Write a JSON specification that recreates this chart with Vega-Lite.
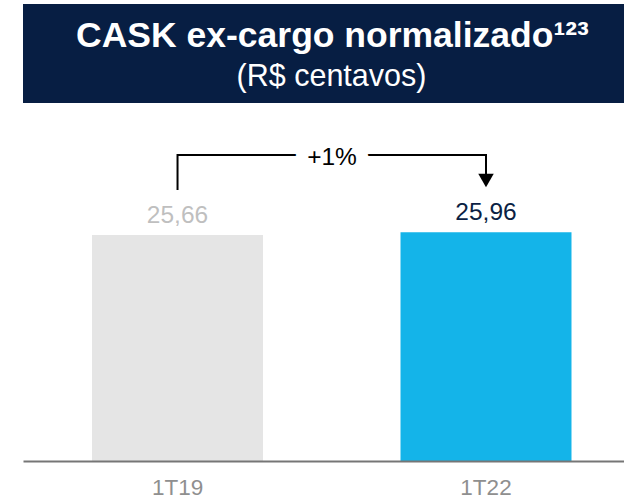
{
  "$schema": "https://vega.github.io/schema/vega-lite/v6.json",
  "background": "white",
  "padding": {"left": 23, "top": 4, "right": 0, "bottom": 0},
  "spacing": 0,
  "config": {
    "view": {"stroke": null},
    "locale": {"number": {"decimal": ",", "thousands": ".", "grouping": [3], "currency": ["R$", ""]}}
  },
  "vconcat": [
    {
      "width": 601,
      "height": 99,
      "view": {"fill": "#071E43", "stroke": null},
      "data": {"values": [
        {"kind": "title", "line": "CASK ex-cargo normalizado¹²³"},
        {"kind": "sub", "line": "(R$ centavos)"}
      ]},
      "layer": [
        {
          "transform": [{"filter": "datum.kind === 'title'"}],
          "mark": {"type": "text", "font": "Liberation Sans", "fontWeight": "bold", "fontSize": 35.5, "color": "white", "align": "center", "baseline": "alphabetic", "dx": 9, "dy": -7},
          "encoding": {"text": {"field": "line"}}
        },
        {
          "transform": [{"filter": "datum.kind === 'sub'"}],
          "mark": {"type": "text", "font": "Liberation Sans", "fontSize": 30.5, "color": "white", "align": "center", "baseline": "alphabetic", "dx": 8, "dy": 32.5},
          "encoding": {"text": {"field": "line"}}
        }
      ]
    },
    {
      "width": 601,
      "height": 358,
      "data": {"values": [
        {"trimestre": "1T19", "cask": 25.66},
        {"trimestre": "1T22", "cask": 25.96}
      ]},
      "encoding": {
        "x": {
          "field": "trimestre", "type": "nominal", "sort": null,
          "scale": {"paddingInner": 0.4457, "paddingOuter": 0.197, "align": 0.568},
          "axis": {"title": null, "ticks": false, "domainColor": "#767676", "domainWidth": 2, "labelFont": "Liberation Sans", "labelFontSize": 22.5, "labelColor": "#8F8F8F", "labelBaseline": "alphabetic", "labelPadding": 33, "labelAngle": 0, "grid": false, "zindex": 1}
        }
      },
      "layer": [
        {
          "mark": {"type": "bar"},
          "encoding": {
            "y": {"field": "cask", "type": "quantitative", "scale": {"domain": [0, 40.65], "nice": false, "zero": true}, "axis": null},
            "color": {"condition": {"test": "datum.trimestre === '1T19'", "value": "#E5E5E5"}, "value": "#14B4E9"}
          }
        },
        {
          "mark": {"type": "text", "font": "Liberation Sans", "fontSize": 24.5, "align": "center", "baseline": "alphabetic", "dy": -12},
          "encoding": {
            "y": {"field": "cask", "type": "quantitative", "axis": null},
            "text": {"field": "cask", "type": "quantitative", "format": ".2f"},
            "color": {"condition": {"test": "datum.trimestre === '1T19'", "value": "#BFBFBF"}, "value": "#0B1F44"}
          }
        },
        {
          "data": {"values": [
            {"trimestre": "1T19", "nivel": 30.77, "ordem": 1},
            {"trimestre": "1T19", "nivel": 34.75, "ordem": 2},
            {"trimestre": "1T22", "nivel": 34.75, "ordem": 3},
            {"trimestre": "1T22", "nivel": 31.85, "ordem": 4}
          ]},
          "mark": {"type": "line", "color": "black", "strokeWidth": 2, "strokeJoin": "miter", "strokeCap": "butt"},
          "encoding": {
            "y": {"field": "nivel", "type": "quantitative", "axis": null},
            "order": {"field": "ordem", "type": "quantitative"}
          }
        },
        {
          "data": {"values": [{"trimestre": "1T22", "nivel": 31.85}]},
          "mark": {"type": "point", "shape": "triangle-down", "filled": true, "color": "black", "opacity": 1, "size": 240},
          "encoding": {
            "y": {"field": "nivel", "type": "quantitative", "axis": null}
          }
        },
        {
          "data": {"values": [{"trimestre": "1T19", "nivel": 34.75, "rotulo": "+1%"}]},
          "mark": {"type": "text", "font": "Liberation Sans", "fontSize": 24.5, "align": "center", "baseline": "middle", "dy": 3, "color": "white", "stroke": "white", "strokeWidth": 25},
          "encoding": {
            "x": {"field": "trimestre", "type": "nominal", "bandPosition": 1.4035},
            "y": {"field": "nivel", "type": "quantitative", "axis": null},
            "text": {"field": "rotulo"}
          }
        },
        {
          "data": {"values": [{"trimestre": "1T19", "nivel": 34.75, "rotulo": "+1%"}]},
          "mark": {"type": "text", "font": "Liberation Sans", "fontSize": 24.5, "align": "center", "baseline": "middle", "dy": 3, "color": "black"},
          "encoding": {
            "x": {"field": "trimestre", "type": "nominal", "bandPosition": 1.4035},
            "y": {"field": "nivel", "type": "quantitative", "axis": null},
            "text": {"field": "rotulo"}
          }
        }
      ]
    }
  ]
}
